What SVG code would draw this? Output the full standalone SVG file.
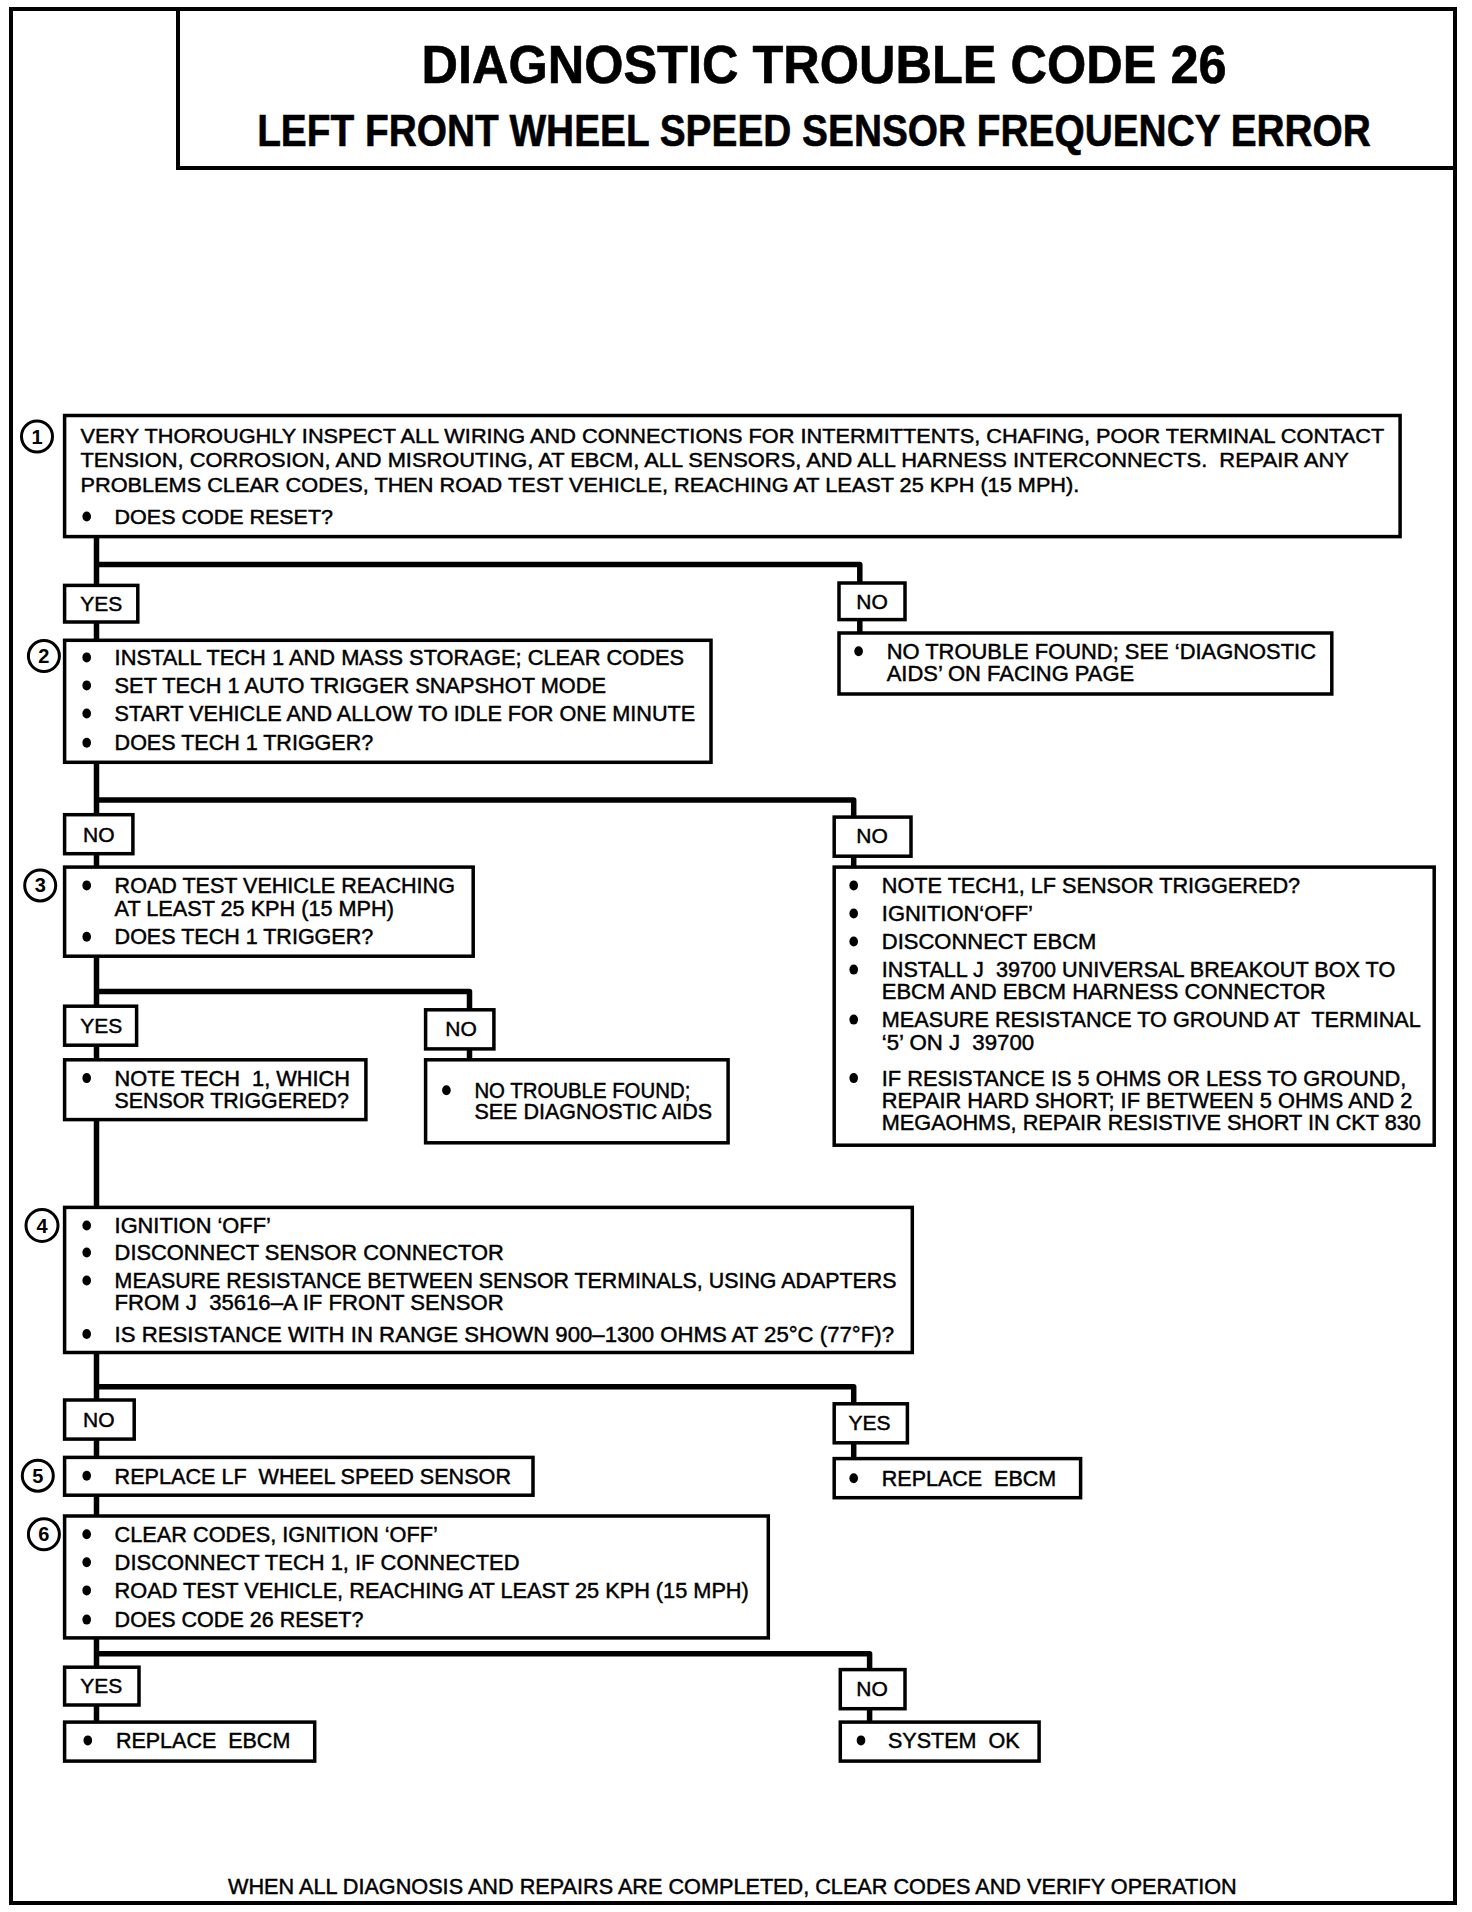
<svg xmlns="http://www.w3.org/2000/svg" width="1472" height="1912" viewBox="0 0 1472 1912">
<style>
text{font-family:"Liberation Sans",Arial,Helvetica,sans-serif;fill:#000;stroke:#000;stroke-width:0.45;white-space:pre}
.t{font-size:21.5px}
.t1{font-size:20.5px}
.ttl{font-weight:bold;text-anchor:middle;stroke-width:0.6}
.box{fill:#fff;stroke:#000;stroke-width:3.5}
.lab{font-size:21px;text-anchor:middle}
.num{font-size:20px;text-anchor:middle;font-weight:bold;stroke-width:0}
.ring{fill:#fff;stroke:#000;stroke-width:3}
.conn path{fill:none;stroke:#000;stroke-width:5.5;stroke-linejoin:round}
.dot{fill:#000}
</style>
<defs><ellipse id="bul" cx="0" cy="0" rx="4.3" ry="5" class="dot"/></defs>
<rect x="0" y="0" width="1472" height="1912" fill="#fff"/>
<g id="frame">
<rect x="11" y="9" width="1444" height="1894" fill="none" stroke="#000" stroke-width="4"/>
<rect x="178" y="9" width="1277" height="159" fill="none" stroke="#000" stroke-width="4"/>
<text class="ttl" transform="translate(824 83) scale(0.953 1)" x="0" y="0" font-size="53">DIAGNOSTIC TROUBLE CODE 26</text>
<text class="ttl" transform="translate(814 146) scale(0.863 1)" x="0" y="0" font-size="45">LEFT FRONT WHEEL SPEED SENSOR FREQUENCY ERROR</text>
</g>
<g id="connectors" class="conn">
<path d="M96.5 536.6 V585.4 M96.5 564.5 H859.8 V583"/>
<path d="M96.5 622 V640.3 M859.8 619.6 V633"/>
<path d="M96.5 762.3 V814.7 M96.5 800.1 H853.7 V817.1 M96.5 853.7 V867.1 M853.7 856.2 V867.1"/>
<path d="M96.5 956.2 V1006.2 M96.5 991.5 H469.5 V1009.8 M96.5 1045.2 V1059.8 M469.5 1048.9 V1059.8 M96.5 1119.6 V1207.4"/>
<path d="M96.5 1352.5 V1400 M96.5 1386.7 H853.7 V1403.8 M96.5 1439.1 V1457.4 M853.7 1442.8 V1458.6 M96.5 1495.2 V1516"/>
<path d="M96.5 1637.9 V1667.2 M96.5 1653.8 H869.6 V1669.6 M96.5 1705 V1722.1 M869.6 1708.7 V1722.1"/>
</g>
<g id="step1">
<rect class="box" x="64.6" y="415.5" width="1335.5" height="121.1"/>
<circle class="ring" cx="37" cy="436.5" r="15.5"/><text class="num" x="37" y="443.5">1</text>
<text class="t1" x="80.5" y="442.5" textLength="1303.7" lengthAdjust="spacingAndGlyphs">VERY THOROUGHLY INSPECT ALL WIRING AND CONNECTIONS FOR INTERMITTENTS, CHAFING, POOR TERMINAL CONTACT</text>
<text class="t1" x="80.5" y="466.5" textLength="1268.4" lengthAdjust="spacingAndGlyphs">TENSION, CORROSION, AND MISROUTING, AT EBCM, ALL SENSORS, AND ALL HARNESS INTERCONNECTS.  REPAIR ANY</text>
<text class="t1" x="80.5" y="491.5" textLength="998.8" lengthAdjust="spacingAndGlyphs">PROBLEMS CLEAR CODES, THEN ROAD TEST VEHICLE, REACHING AT LEAST 25 KPH (15 MPH).</text>
<use href="#bul" x="86.7" y="516.5"/><text class="t1" x="114.6" y="523.5" textLength="218.4" lengthAdjust="spacingAndGlyphs">DOES CODE RESET?</text>
</g>
<g id="label-yes-1"><rect class="box" x="64.6" y="585.4" width="73.2" height="36.6"/><text class="lab" x="101.2" y="611">YES</text></g>
<g id="label-no-1"><rect class="box" x="839" y="583" width="66" height="36.6"/><text class="lab" x="872" y="609">NO</text></g>
<g id="ntf1">
<rect class="box" x="839" y="633" width="492.8" height="61"/>
<use href="#bul" x="858.6" y="651.3"/>
<text class="t" x="886.7" y="659" textLength="429.3" lengthAdjust="spacingAndGlyphs">NO TROUBLE FOUND; SEE ‘DIAGNOSTIC</text>
<text class="t" x="886.7" y="681" textLength="247.5" lengthAdjust="spacingAndGlyphs">AIDS’ ON FACING PAGE</text>
</g>
<g id="step2">
<rect class="box" x="64.6" y="640.3" width="646.4" height="122"/>
<circle class="ring" cx="43.9" cy="656.1" r="15.5"/><text class="num" x="43.9" y="663">2</text>
<use href="#bul" x="86.7" y="657.4"/><text class="t" x="114.6" y="665" textLength="569.6" lengthAdjust="spacingAndGlyphs">INSTALL TECH 1 AND MASS STORAGE; CLEAR CODES</text>
<use href="#bul" x="86.7" y="685.4"/><text class="t" x="114.6" y="693" textLength="491.4" lengthAdjust="spacingAndGlyphs">SET TECH 1 AUTO TRIGGER SNAPSHOT MODE</text>
<use href="#bul" x="86.7" y="713.5"/><text class="t" x="114.6" y="721" textLength="580.6" lengthAdjust="spacingAndGlyphs">START VEHICLE AND ALLOW TO IDLE FOR ONE MINUTE</text>
<use href="#bul" x="86.7" y="742.7"/><text class="t" x="114.6" y="750" textLength="258.6" lengthAdjust="spacingAndGlyphs">DOES TECH 1 TRIGGER?</text>
</g>
<g id="label-no-2a"><rect class="box" x="64.6" y="814.7" width="68.3" height="39"/><text class="lab" x="98.8" y="842">NO</text></g>
<g id="label-no-2b"><rect class="box" x="834.2" y="817.1" width="76.8" height="39.1"/><text class="lab" x="872" y="843">NO</text></g>
<g id="step3">
<rect class="box" x="64.6" y="867.1" width="408.6" height="89.1"/>
<circle class="ring" cx="40.2" cy="885.4" r="15.5"/><text class="num" x="40.2" y="892.3">3</text>
<use href="#bul" x="86.7" y="885.4"/><text class="t" x="114.6" y="893" textLength="340.3" lengthAdjust="spacingAndGlyphs">ROAD TEST VEHICLE REACHING</text>
<text class="t" x="114.6" y="916" textLength="279.3" lengthAdjust="spacingAndGlyphs">AT LEAST 25 KPH (15 MPH)</text>
<use href="#bul" x="86.7" y="936.7"/><text class="t" x="114.6" y="944" textLength="258.6" lengthAdjust="spacingAndGlyphs">DOES TECH 1 TRIGGER?</text>
</g>
<g id="check-ckt830">
<rect class="box" x="834.2" y="867.1" width="600" height="278.1"/>
<use href="#bul" x="853.7" y="885.4"/><text class="t" x="881.8" y="893" textLength="418.3" lengthAdjust="spacingAndGlyphs">NOTE TECH1, LF SENSOR TRIGGERED?</text>
<use href="#bul" x="853.7" y="913.5"/><text class="t" x="881.8" y="921" textLength="151.2" lengthAdjust="spacingAndGlyphs">IGNITION‘OFF’</text>
<use href="#bul" x="853.7" y="941.5"/><text class="t" x="881.8" y="949" textLength="214.6" lengthAdjust="spacingAndGlyphs">DISCONNECT EBCM</text>
<use href="#bul" x="853.7" y="969.6"/><text class="t" x="881.8" y="977" textLength="513.4" lengthAdjust="spacingAndGlyphs">INSTALL J  39700 UNIVERSAL BREAKOUT BOX TO</text>
<text class="t" x="881.8" y="999" textLength="443.9" lengthAdjust="spacingAndGlyphs">EBCM AND EBCM HARNESS CONNECTOR</text>
<use href="#bul" x="853.7" y="1019.6"/><text class="t" x="881.8" y="1027" textLength="539" lengthAdjust="spacingAndGlyphs">MEASURE RESISTANCE TO GROUND AT  TERMINAL</text>
<text class="t" x="881.8" y="1050" textLength="152.4" lengthAdjust="spacingAndGlyphs">‘5’ ON J  39700</text>
<use href="#bul" x="853.7" y="1078.1"/><text class="t" x="881.8" y="1085.5" textLength="524.4" lengthAdjust="spacingAndGlyphs">IF RESISTANCE IS 5 OHMS OR LESS TO GROUND,</text>
<text class="t" x="881.8" y="1107.5" textLength="530.5" lengthAdjust="spacingAndGlyphs">REPAIR HARD SHORT; IF BETWEEN 5 OHMS AND 2</text>
<text class="t" x="881.8" y="1129.5" textLength="539" lengthAdjust="spacingAndGlyphs">MEGAOHMS, REPAIR RESISTIVE SHORT IN CKT 830</text>
</g>
<g id="label-yes-3"><rect class="box" x="64.6" y="1006.2" width="72" height="39"/><text class="lab" x="101.2" y="1033">YES</text></g>
<g id="label-no-3"><rect class="box" x="425.6" y="1009.8" width="68.3" height="39.1"/><text class="lab" x="461" y="1036">NO</text></g>
<g id="note-sensor">
<rect class="box" x="64.6" y="1059.8" width="301.3" height="59.8"/>
<use href="#bul" x="86.7" y="1078.1"/><text class="t" x="114.6" y="1085.5" textLength="235.4" lengthAdjust="spacingAndGlyphs">NOTE TECH  1, WHICH</text>
<text class="t" x="114.6" y="1107.5" textLength="234.2" lengthAdjust="spacingAndGlyphs">SENSOR TRIGGERED?</text>
</g>
<g id="ntf2">
<rect class="box" x="425.6" y="1059.8" width="302.5" height="83"/>
<use href="#bul" x="446.4" y="1090.3"/><text class="t" x="474.4" y="1098" textLength="215.9" lengthAdjust="spacingAndGlyphs">NO TROUBLE FOUND;</text>
<text class="t" x="474.4" y="1118.5" textLength="237.8" lengthAdjust="spacingAndGlyphs">SEE DIAGNOSTIC AIDS</text>
</g>
<g id="step4">
<rect class="box" x="64.6" y="1207.4" width="847.7" height="145.1"/>
<circle class="ring" cx="42" cy="1225.5" r="16"/><text class="num" x="42" y="1232.5">4</text>
<use href="#bul" x="86.7" y="1225.5"/><text class="t" x="114.6" y="1233" textLength="156.2" lengthAdjust="spacingAndGlyphs">IGNITION ‘OFF’</text>
<use href="#bul" x="86.7" y="1252.5"/><text class="t" x="114.6" y="1260" textLength="389.1" lengthAdjust="spacingAndGlyphs">DISCONNECT SENSOR CONNECTOR</text>
<use href="#bul" x="86.7" y="1280.5"/><text class="t" x="114.6" y="1288" textLength="781.8" lengthAdjust="spacingAndGlyphs">MEASURE RESISTANCE BETWEEN SENSOR TERMINALS, USING ADAPTERS</text>
<text class="t" x="114.6" y="1310" textLength="389.1" lengthAdjust="spacingAndGlyphs">FROM J  35616–A IF FRONT SENSOR</text>
<use href="#bul" x="86.7" y="1334"/><text class="t" x="114.6" y="1341.5" textLength="779.4" lengthAdjust="spacingAndGlyphs">IS RESISTANCE WITH IN RANGE SHOWN 900–1300 OHMS AT 25°C (77°F)?</text>
</g>
<g id="label-no-4"><rect class="box" x="64.6" y="1400" width="69.6" height="39.1"/><text class="lab" x="98.8" y="1427">NO</text></g>
<g id="label-yes-4"><rect class="box" x="834.2" y="1403.8" width="73.2" height="39"/><text class="lab" x="869.6" y="1430">YES</text></g>
<g id="step5">
<rect class="box" x="64.6" y="1457.4" width="468.4" height="37.8"/>
<circle class="ring" cx="37.8" cy="1475.7" r="15.5"/><text class="num" x="37.8" y="1482.6">5</text>
<use href="#bul" x="86.7" y="1475.7"/><text class="t" x="114.6" y="1483.5" textLength="396.4" lengthAdjust="spacingAndGlyphs">REPLACE LF  WHEEL SPEED SENSOR</text>
</g>
<g id="replace-ebcm-1">
<rect class="box" x="834.2" y="1458.6" width="246.4" height="39.1"/>
<use href="#bul" x="853.7" y="1478.2"/><text class="t" x="881.8" y="1486" textLength="174.4" lengthAdjust="spacingAndGlyphs">REPLACE  EBCM</text>
</g>
<g id="step6">
<rect class="box" x="64.6" y="1516" width="703.7" height="121.9"/>
<circle class="ring" cx="43.9" cy="1534.3" r="15.5"/><text class="num" x="43.9" y="1541.2">6</text>
<use href="#bul" x="86.7" y="1534.3"/><text class="t" x="114.6" y="1542" textLength="323.2" lengthAdjust="spacingAndGlyphs">CLEAR CODES, IGNITION ‘OFF’</text>
<use href="#bul" x="86.7" y="1562.3"/><text class="t" x="114.6" y="1570" textLength="404.9" lengthAdjust="spacingAndGlyphs">DISCONNECT TECH 1, IF CONNECTED</text>
<use href="#bul" x="86.7" y="1590.4"/><text class="t" x="114.6" y="1598" textLength="634.2" lengthAdjust="spacingAndGlyphs">ROAD TEST VEHICLE, REACHING AT LEAST 25 KPH (15 MPH)</text>
<use href="#bul" x="86.7" y="1619.6"/><text class="t" x="114.6" y="1627" textLength="248.8" lengthAdjust="spacingAndGlyphs">DOES CODE 26 RESET?</text>
</g>
<g id="label-yes-6"><rect class="box" x="64.6" y="1667.2" width="74.4" height="37.8"/><text class="lab" x="101.2" y="1693">YES</text></g>
<g id="label-no-6"><rect class="box" x="840.3" y="1669.6" width="64.7" height="39.1"/><text class="lab" x="872" y="1696">NO</text></g>
<g id="replace-ebcm-2">
<rect class="box" x="64.6" y="1722.1" width="250.1" height="39"/>
<use href="#bul" x="87.8" y="1740.4"/><text class="t" x="115.9" y="1748" textLength="174.4" lengthAdjust="spacingAndGlyphs">REPLACE  EBCM</text>
</g>
<g id="system-ok">
<rect class="box" x="840.3" y="1722.1" width="198.8" height="39"/>
<use href="#bul" x="861" y="1740.4"/><text class="t" x="887.9" y="1748" textLength="131.7" lengthAdjust="spacingAndGlyphs">SYSTEM  OK</text>
</g>
<g id="footer">
<text class="t" x="732.4" y="1894" text-anchor="middle" textLength="1008.7" lengthAdjust="spacingAndGlyphs">WHEN ALL DIAGNOSIS AND REPAIRS ARE COMPLETED, CLEAR CODES AND VERIFY OPERATION</text>
</g>
</svg>
